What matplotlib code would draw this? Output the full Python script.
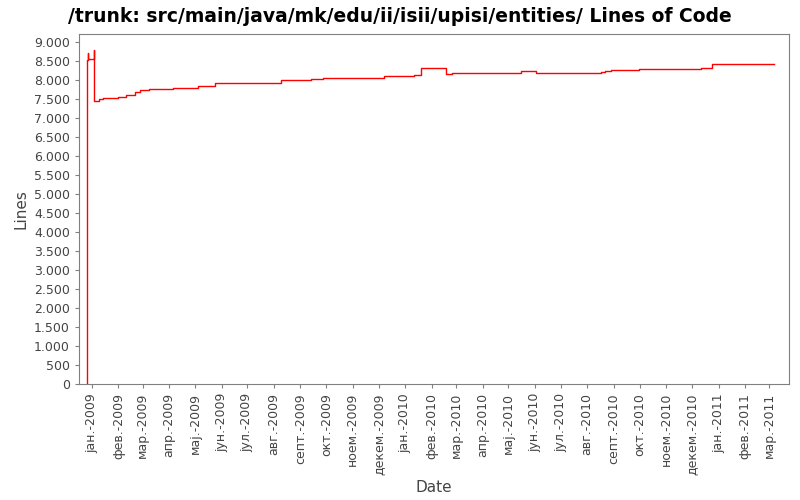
import matplotlib
matplotlib.use("Agg")
import matplotlib.pyplot as plt
from matplotlib.ticker import FuncFormatter, MultipleLocator
import numpy as np

dates = ["2008-12-26","2008-12-28","2008-12-28","2009-01-03","2009-01-03","2009-01-04","2009-01-06",
         "2009-01-09","2009-01-14","2009-01-31","2009-02-10","2009-02-20","2009-02-26","2009-03-01",
         "2009-03-09","2009-04-05","2009-05-05","2009-05-24","2009-08-09","2009-09-13","2009-09-27",
         "2009-12-07","2010-01-11","2010-01-19","2010-02-17","2010-02-24","2010-05-16","2010-06-02",
         "2010-08-17","2010-08-22","2010-08-29","2010-09-30","2010-12-12","2010-12-24","2011-03-07"]
lines = [8520,8700,8545,8770,8230,7430,7450,7480,7525,7550,7600,7680,7715,7740,7760,7785,7840,7900,
         8000,8030,8050,8085,8110,8310,8155,8180,8215,8180,8205,8230,8260,8285,8310,8415,8415]
month_labels = ["јан.-2009","фев.-2009","мар.-2009","апр.-2009","мај.-2009","јун.-2009","јул.-2009",
                "авг.-2009","септ.-2009","окт.-2009","ноем.-2009","декем.-2009","јан.-2010","фев.-2010",
                "мар.-2010","апр.-2010","мај.-2010","јун.-2010","јул.-2010","авг.-2010","септ.-2010",
                "окт.-2010","ноем.-2010","декем.-2010","јан.-2011","фев.-2011","мар.-2011"]

d = np.array(dates, dtype="datetime64[D]")
x = np.concatenate([[d[0]], d])
y = np.concatenate([[0], lines])

fig = plt.figure(figsize=(8, 5), dpi=100)
ax = fig.add_axes([79/800, 116/500, 710/800, 350/500])
ax.step(x, y, where="post", color="red", lw=1)
ticks = np.arange(np.datetime64("2009-01"), np.datetime64("2011-04"), dtype="datetime64[M]").astype("datetime64[D]")
ax.set_xticks(ticks)
ax.set_xticklabels(month_labels, rotation=90, fontsize=9, color="#444444")
ax.set_xlim(np.datetime64("2008-12-17"), np.datetime64("2011-03-24"))
ax.set_ylim(0, 9200)
ax.yaxis.set_major_locator(MultipleLocator(500))
ax.yaxis.set_major_formatter(FuncFormatter(lambda v, p: f"{int(v):,}".replace(",", ".")))
ax.tick_params(axis="y", labelsize=9, colors="#444444")
ax.tick_params(length=3, color="gray")
for s in ax.spines.values():
    s.set_color("gray")
ax.set_xlabel("Date", fontsize=11, color="#444444")
ax.set_ylabel("Lines", fontsize=11, color="#444444")
fig.suptitle("/trunk: src/main/java/mk/edu/ii/isii/upisi/entities/ Lines of Code",
             fontsize=13.5, fontweight="bold", y=0.985)
fig.savefig("out.png", dpi=100)
